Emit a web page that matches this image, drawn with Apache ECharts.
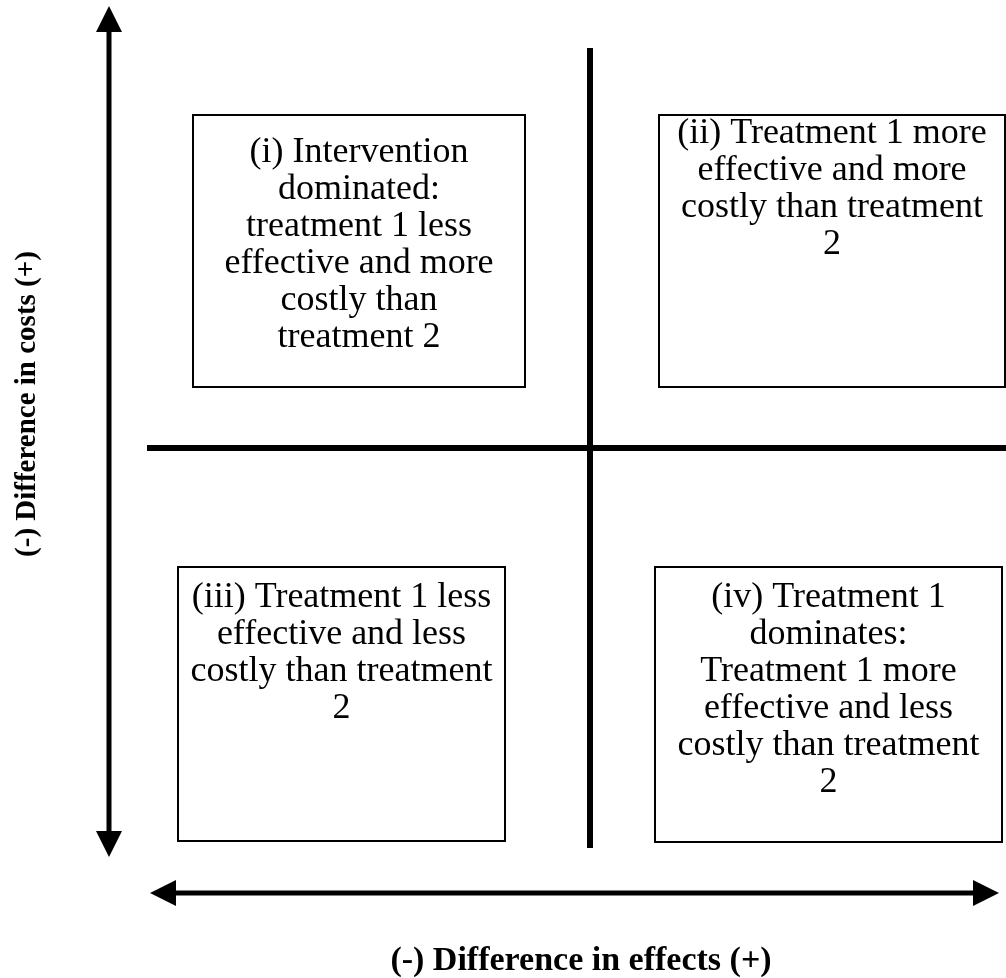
<!DOCTYPE html>
<html>
<head>
<meta charset="utf-8">
<script src="https://cdn.jsdelivr.net/npm/echarts@6/dist/echarts.min.js"></script>
<style>
    html, body { margin: 0; padding: 0; background: #fff; }
    #chart { width: 1006px; height: 978px; }
</style>
</head>
<body>
<div id="chart"></div>
<script>
'use strict';

// diagram units: x = difference in effects, y = difference in costs (origin at the quadrant cross)
var xRange = [-5.9, 4.16];
var yRange = [-5.3, 4.48];

// [x0, x1, yTop, yBottom]
var boxExtents = [
    [-3.97, -0.65, 3.33, 0.61],
    [0.69, 4.15, 3.33, 0.61],
    [-4.12, -0.85, -1.19, -3.93],
    [0.65, 4.12, -1.19, -3.94]
];
var boxTexts = [
    '(i) Intervention\ndominated:\ntreatment 1 less\neffective and more\ncostly than\ntreatment 2',
    '(ii) Treatment 1 more\neffective and more\ncostly than treatment\n2',
    '(iii) Treatment 1 less\neffective and less\ncostly than treatment\n2',
    '(iv) Treatment 1\ndominates:\nTreatment 1 more\neffective and less\ncostly than treatment\n2'
];
var boxTextPad = [19, 0, 12, 12];

// [x0, y0, x1, y1]
var quadrantLines = [
    [0, 4.0, 0, -4.0],
    [-4.43, 0, 4.16, 0]
];
var axisArrows = [
    [-4.81, 4.42, -4.81, -4.09],
    [-4.40, -4.45, 4.09, -4.45]
];

var xLabel = '(-) Difference in effects (+)';
var yLabel = '(-) Difference in costs (+)';

var serif = '"Liberation Serif", "Times New Roman", serif';

var chart = echarts.init(document.getElementById('chart'));

function renderSegment(params, api) {
    var a = api.coord([api.value(0), api.value(1)]);
    var b = api.coord([api.value(2), api.value(3)]);
    return {
        type: 'line',
        shape: { x1: a[0], y1: a[1], x2: b[0], y2: b[1] },
        style: { stroke: '#000', lineWidth: 6 }
    };
}

function arrowHead(tip, dx, dy) {
    var len = 26, half = 13;
    var bx = tip[0] - dx * len, by = tip[1] - dy * len;
    return {
        type: 'polygon',
        shape: { points: [tip, [bx - dy * half, by + dx * half], [bx + dy * half, by - dx * half]] },
        style: { fill: '#000' }
    };
}

function renderArrow(params, api) {
    var a = api.coord([api.value(0), api.value(1)]);
    var b = api.coord([api.value(2), api.value(3)]);
    var L = Math.sqrt((b[0] - a[0]) * (b[0] - a[0]) + (b[1] - a[1]) * (b[1] - a[1]));
    var dx = (b[0] - a[0]) / L, dy = (b[1] - a[1]) / L;
    return {
        type: 'group',
        children: [
            {
                type: 'line',
                shape: { x1: a[0] + dx * 20, y1: a[1] + dy * 20, x2: b[0] - dx * 20, y2: b[1] - dy * 20 },
                style: { stroke: '#000', lineWidth: 5 }
            },
            arrowHead(b, dx, dy),
            arrowHead(a, -dx, -dy)
        ]
    };
}

function renderBox(params, api) {
    var p0 = api.coord([api.value(0), api.value(2)]);
    var p1 = api.coord([api.value(1), api.value(3)]);
    var i = params.dataIndex;
    return {
        type: 'group',
        children: [
            {
                type: 'rect',
                shape: { x: p0[0], y: p0[1], width: p1[0] - p0[0], height: p1[1] - p0[1] },
                style: { fill: '#fff', stroke: '#000', lineWidth: 2 }
            },
            {
                type: 'text',
                x: (p0[0] + p1[0]) / 2,
                y: p0[1] + boxTextPad[i],
                style: {
                    text: boxTexts[i],
                    font: '36px ' + serif,
                    lineHeight: 37,
                    align: 'center',
                    verticalAlign: 'top',
                    fill: '#000'
                }
            }
        ]
    };
}

var option = {
    animation: false,
    grid: { left: 0, right: 0, top: 0, bottom: 0 },
    xAxis: { type: 'value', min: xRange[0], max: xRange[1], show: false },
    yAxis: { type: 'value', min: yRange[0], max: yRange[1], show: false },
    graphic: [
        {
            type: 'text',
            x: 28, y: 404,
            rotation: Math.PI / 2,
            style: {
                text: yLabel,
                font: 'bold 29px ' + serif,
                align: 'center',
                verticalAlign: 'middle',
                fill: '#000'
            }
        },
        {
            type: 'text',
            x: 581, y: 961,
            style: {
                text: xLabel,
                font: 'bold 34px ' + serif,
                align: 'center',
                verticalAlign: 'middle',
                fill: '#000'
            }
        }
    ],
    series: [
        {
            type: 'custom',
            renderItem: renderSegment,
            data: quadrantLines
        },
        {
            type: 'custom',
            renderItem: renderArrow,
            data: axisArrows
        },
        {
            type: 'custom',
            renderItem: renderBox,
            data: boxExtents
        }
    ]
};
chart.setOption(option);
</script>
</body>
</html>
